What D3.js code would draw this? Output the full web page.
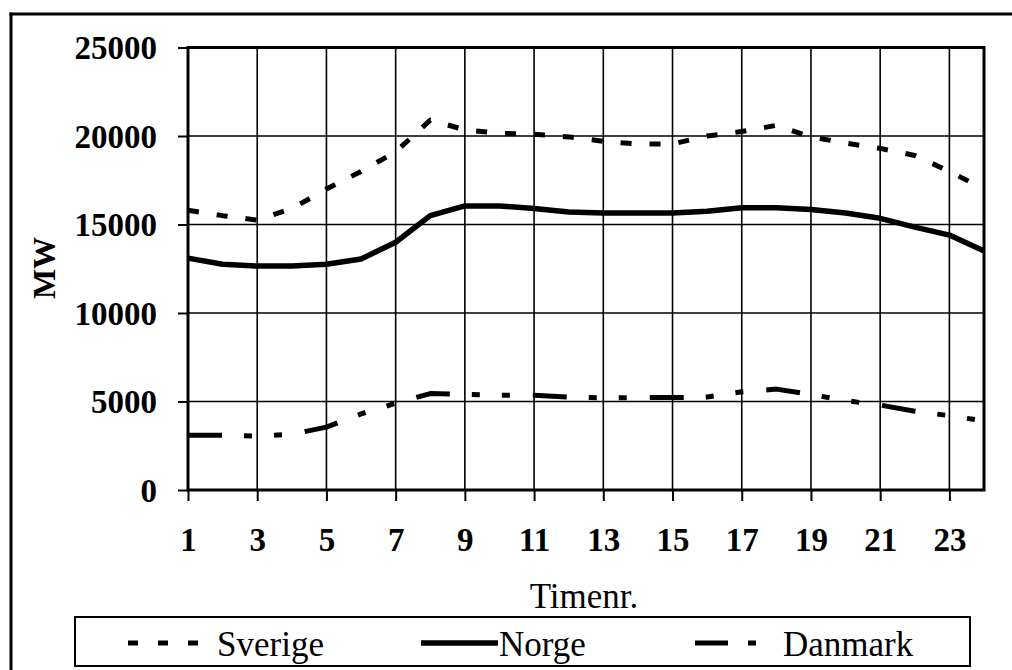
<!DOCTYPE html>
<html>
<head>
<meta charset="utf-8">
<script src="https://cdn.jsdelivr.net/npm/d3@7/dist/d3.min.js"></script>
<style>
  html, body { margin: 0; padding: 0; background: #fff; overflow: hidden; }
  svg { display: block; }
  text { font-family: "Liberation Serif", "Times New Roman", serif; fill: #000; }
</style>
</head>
<body>
<svg id="chart" width="1012" height="670"></svg>
<script>
// ---- data ----
const hours = [1,2,3,4,5,6,7,8,9,10,11,12,13,14,15,16,17,18,19,20,21,22,23,24];
const sverige = [15800,15500,15250,15900,17000,18000,19100,20900,20350,20150,20100,19950,19700,19550,19550,20000,20250,20600,19950,19600,19300,18900,18000,17000];
const norge   = [13100,12750,12650,12650,12750,13050,14000,15500,16050,16050,15900,15700,15650,15650,15650,15750,15950,15950,15850,15650,15350,14850,14400,13500];
const danmark = [3100,3100,3050,3150,3550,4300,4900,5450,5400,5350,5350,5250,5200,5220,5220,5250,5550,5700,5400,5050,4800,4450,4200,3900];
const xTickLabels = [1,3,5,7,9,11,13,15,17,19,21,23];
const yTickLabels = [0,5000,10000,15000,20000,25000];
const seriesNames = ["Sverige","Norge","Danmark"];
const xTitle = "Timenr.";
const yTitle = "MW";

// ---- layout ----
const svg = d3.select("#chart");
const L = 188, R = 984, T = 47.5, B = 490;
const x = d3.scaleLinear().domain([1, 24]).range([L, R]);
const y = d3.scaleLinear().domain([0, 25000]).range([B, T]);

const styles = {
  Sverige: { dash: "11,18", width: 5 },
  Norge:   { dash: null, width: 5.5 },
  Danmark: { dash: "34,22,8,22,8,23", width: 5 }
};

// outer frame (left and top edges only visible)
svg.append("line").attr("x1", 11).attr("x2", 11).attr("y1", 12.5).attr("y2", 670)
  .attr("stroke", "#000").attr("stroke-width", 3);
svg.append("line").attr("x1", 9.5).attr("x2", 1012).attr("y1", 14).attr("y2", 14)
  .attr("stroke", "#000").attr("stroke-width", 3);

// gridlines
svg.append("g").selectAll("line").data(yTickLabels.filter(v => v > 0 && v < 25000)).join("line")
  .attr("x1", L).attr("x2", R).attr("y1", d => y(d)).attr("y2", d => y(d))
  .attr("stroke", "#000").attr("stroke-width", 1.6);
svg.append("g").selectAll("line").data(xTickLabels.filter(v => v > 1)).join("line")
  .attr("y1", T).attr("y2", B).attr("x1", d => x(d)).attr("x2", d => x(d))
  .attr("stroke", "#000").attr("stroke-width", 1.6);

// axes
const yAxis = svg.append("g").attr("transform", `translate(${L},0)`)
  .call(d3.axisLeft(y).tickValues(yTickLabels).tickSize(10).tickPadding(21).tickFormat(d3.format("d")));
yAxis.select(".domain").remove();
yAxis.selectAll(".tick line").attr("stroke-width", 2);
yAxis.selectAll("text").attr("font-size", 33).attr("font-weight", "bold")
  .attr("font-family", "Liberation Serif, serif").attr("dy", "0.34em");

const xAxis = svg.append("g").attr("transform", `translate(0,${B})`)
  .call(d3.axisBottom(x).tickValues(xTickLabels).tickSize(11).tickPadding(27).tickFormat(d3.format("d")));
xAxis.select(".domain").remove();
xAxis.selectAll(".tick line").attr("stroke-width", 2);
xAxis.selectAll("text").attr("font-size", 33).attr("font-weight", "bold")
  .attr("font-family", "Liberation Serif, serif");

// plot border
svg.append("rect").attr("x", L).attr("y", T).attr("width", R - L).attr("height", B - T)
  .attr("fill", "none").attr("stroke", "#000").attr("stroke-width", 3);

// lines
const line = d3.line().x((d, i) => x(hours[i])).y(d => y(d));
const data = { Sverige: sverige, Norge: norge, Danmark: danmark };
seriesNames.forEach(name => {
  const p = svg.append("path").datum(data[name])
    .attr("d", line).attr("fill", "none").attr("stroke", "#000")
    .attr("stroke-width", styles[name].width).attr("stroke-linejoin", "round");
  if (styles[name].dash) p.attr("stroke-dasharray", styles[name].dash);
});

// titles
svg.append("text").attr("x", 584).attr("y", 608).attr("text-anchor", "middle")
  .attr("font-size", 35).text(xTitle);
svg.append("text").attr("transform", "translate(55,268) rotate(-90)").attr("text-anchor", "middle")
  .attr("font-size", 32).attr("font-weight", "bold").text(yTitle);

// legend
svg.append("rect").attr("x", 75).attr("y", 617).attr("width", 895).attr("height", 49)
  .attr("fill", "none").attr("stroke", "#000").attr("stroke-width", 2);
const legendItems = [
  { name: "Sverige", x1: 128, x2: 200, dash: "10,20", tx: 217 },
  { name: "Norge", x1: 421, x2: 498, dash: null, tx: 499 },
  { name: "Danmark", x1: 695, x2: 756, dash: "33,20,8,40", tx: 783 }
];
legendItems.forEach(it => {
  const l = svg.append("line").attr("x1", it.x1).attr("x2", it.x2).attr("y1", 643).attr("y2", 643)
    .attr("stroke", "#000").attr("stroke-width", styles[it.name].width);
  if (it.dash) l.attr("stroke-dasharray", it.dash);
  svg.append("text").attr("x", it.tx).attr("y", 656).attr("font-size", 35).text(it.name);
});
</script>
</body>
</html>
